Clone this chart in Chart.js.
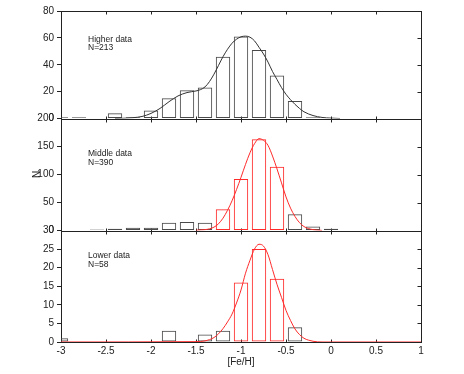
<!DOCTYPE html>
<html><head><meta charset="utf-8">
<script src="https://cdn.jsdelivr.net/npm/chart.js@4.4.0/dist/chart.umd.min.js"></script>
<style>html,body{margin:0;padding:0;background:#fff}</style>
</head><body>
<canvas id="c" width="464" height="374" style="width:464px;height:374px"></canvas>
<script>
// ---- data ----
const bins = [-3.0,-2.8,-2.6,-2.4,-2.2,-2.0,-1.8,-1.6,-1.4,-1.2,-1.0,-0.8,-0.6,-0.4,-0.2,0.0,0.2,0.4,0.6,0.8,1.0];
const higherCounts = [1,1,0,4,1,6,15,21,23,46,61,51,32,13,1,0,0,0,0,0,0];
const middleBlack  = [0,0,2,3,5,5,14,15,14,0,0,0,0,29,7,3,0,0,0,0,0];
const middleRed    = [0,0,0,0,0,0,0,0,0,38,92,163,114,0,0,0,0,0,0,0,0];
const lowerBlack   = [1,0,0,0,0,0,3,0,2,3,0,0,0,4,0,0,0,0,0,0,0];
const lowerRed     = [0,0,0,0,0,0,0,0,0,0,16,25,17,0,0,0,0,0,0,0,0];

const higherFitX = [-2.4,-2.3,-2.2,-2.1,-2.0,-1.9,-1.8,-1.7,-1.6,-1.5,-1.45,-1.4,-1.35,-1.3,-1.25,-1.2,-1.15,-1.1,-1.05,-1.0,-0.95,-0.9,-0.85,-0.8,-0.75,-0.7,-0.65,-0.6,-0.55,-0.5,-0.45,-0.4,-0.35,-0.3,-0.2,-0.1,0.0,0.1];
const higherFitY = [0,0.2,0.6,1.5,3.8,7.5,12.5,16.8,19.3,20.5,21.5,23.5,27.5,33,39.5,46,51.5,56,59,60.8,61.3,60.5,57.8,53,48,42,35,29,23,18,14,10.5,7.5,5,2.2,0.8,0.3,0];
const middleFitX = [-1.5,-1.45,-1.4,-1.35,-1.3,-1.25,-1.2,-1.15,-1.1,-1.05,-1.0,-0.95,-0.9,-0.85,-0.8,-0.75,-0.7,-0.65,-0.6,-0.55,-0.5,-0.45,-0.4,-0.35,-0.3,-0.25,-0.2,-0.15,-0.1];
const middleFitY = [0.4,1,1.5,3,6,12,22,36,53,73,95,118,139,155,164,161,152,133,110,85,60,40,25,14,7,3.5,1.5,0.6,0.2];
const lowerFitX = [-3.0,-1.5,-1.4,-1.3,-1.25,-1.2,-1.15,-1.1,-1.05,-1.0,-0.95,-0.9,-0.85,-0.8,-0.75,-0.7,-0.65,-0.6,-0.55,-0.5,-0.45,-0.4,-0.35,-0.3,-0.25,-0.2,-0.1,1.0];
const lowerFitY = [0,0.1,0.3,1.2,2.2,3.6,5.4,7.5,10.5,14,18.5,22,25,26.3,25.8,23.5,19.5,15.5,12,8.5,5.8,3.5,2,1,0.5,0.2,0,0];

const xTickValues = [-3,-2.5,-2,-1.5,-1,-0.5,0,0.5,1];
const topTicks = [0,20,40,60,80];
const midTicks = [0,50,100,150,200];
const lowTicks = [0,5,10,15,20,25,30];
const panelNames = ['Higher data','Middle data','Lower data'];
const panelN = ['N=213','N=390','N=58'];

// ---- styling ----
const BLACK = '#4a4a4a';
const CURVE = '#333333';
const RED = '#ff2a2a';
const AX = '#222222';
const FONT = '"Liberation Sans", Arial, Helvetica, sans-serif';

function barPoints(counts){ return bins.map((x,i)=>({x:x,y:counts[i]})).filter(p=>p.y>0); }
function linePoints(xs,ys){ return xs.map((x,i)=>({x:x,y:ys[i]})); }

function barDS(counts, color, axis){
  return {type:'bar', data:barPoints(counts), yAxisID:axis, borderColor:color, backgroundColor:'rgba(0,0,0,0)',
    borderWidth:1, borderSkipped:false, barPercentage:0.8, categoryPercentage:1.0, grouped:false};
}
function lineDS(xs, ys, color, axis){
  return {type:'line', data:linePoints(xs,ys), yAxisID:axis, borderColor:color, borderWidth:1, pointRadius:0,
    fill:false, tension:0.4, cubicInterpolationMode:'monotone'};
}

function yScale(ticks, weight, stackWeight, extra){
  const s = {
    type:'linear', position:'left', stack:'panels', stackWeight:stackWeight, weight:weight, offset:false,
    min:ticks[0], max:ticks[ticks.length-1],
    afterBuildTicks:(sc)=>{ sc.ticks = ticks.map(v=>({value:v})); },
    afterFit:(sc)=>{ sc.width = 61; },
    grid:{display:true, drawOnChartArea:false, drawTicks:true, tickLength:4, color:AX, lineWidth:1},
    border:{display:false},
    ticks:{color:AX, padding:3, font:{family:FONT, size:10}, autoSkip:false, callback:(v)=>String(v)}
  };
  return Object.assign(s, extra||{});
}

const framePlugin = {
  id:'frame',
  beforeDatasetsDraw(chart){
    const {ctx, chartArea:a, scales} = chart;
    const x = scales.x;
    ctx.save();
    ctx.strokeStyle = AX; ctx.lineWidth = 1;
    ['yTop','yMid','yLow'].forEach(id=>{
      const s = scales[id];
      const t = Math.round(s.top)+0.5, b = Math.round(s.bottom)+0.5;
      const l = Math.round(a.left)+0.5, r = Math.round(a.right)+0.5;
      ctx.strokeRect(l, t, r-l, b-t);
      ctx.beginPath();
      x.ticks.forEach(tk=>{
        const px = Math.round(x.getPixelForValue(tk.value))+0.5;
        ctx.moveTo(px,t); ctx.lineTo(px,t+3);
        ctx.moveTo(px,b); ctx.lineTo(px,b-3);
      });
      s.ticks.forEach(tk=>{
        const py = Math.round(s.getPixelForValue(tk.value))+0.5;
        ctx.moveTo(r,py); ctx.lineTo(r-4,py);
      });
      ctx.stroke();
    });
    ctx.restore();
  },
  afterDatasetsDraw(chart){
    const {ctx, scales} = chart;
    const anchors = [['yTop',57],['yMid',133],['yLow',22.6]];
    ctx.save();
    ctx.fillStyle = AX;
    ctx.font = '8.5px ' + FONT;
    ctx.textBaseline = 'alphabetic';
    ctx.textAlign = 'left';
    anchors.forEach((an,i)=>{
      const px = scales.x.getPixelForValue(-2.7);
      const py = scales[an[0]].getPixelForValue(an[1]);
      ctx.fillText(panelNames[i], px, py);
      ctx.fillText(panelN[i], px, py+8.5);
    });
    ctx.restore();
  }
};

new Chart(document.getElementById('c'), {
  type:'bar',
  data:{datasets:[
    lineDS(higherFitX, higherFitY, CURVE, 'yTop'),
    lineDS(middleFitX, middleFitY, RED, 'yMid'),
    lineDS(lowerFitX, lowerFitY, RED, 'yLow'),
    barDS(higherCounts, BLACK, 'yTop'),
    barDS(middleBlack, BLACK, 'yMid'),
    barDS(middleRed, RED, 'yMid'),
    barDS(lowerBlack, BLACK, 'yLow'),
    barDS(lowerRed, RED, 'yLow')
  ]},
  options:{
    responsive:false, animation:false, devicePixelRatio:1,
    layout:{padding:{top:11, right:43, left:0, bottom:0}},
    plugins:{legend:{display:false}, tooltip:{enabled:false}},
    scales:{
      x:{type:'linear', position:'bottom', min:-3, max:1, offset:false,
        afterBuildTicks:(sc)=>{ sc.ticks = xTickValues.map(v=>({value:v})); },
        afterFit:(sc)=>{ sc.height = 32; },
        grid:{display:false, offset:false, drawTicks:false}, border:{display:false},
        ticks:{color:AX, padding:3, font:{family:FONT, size:10}, autoSkip:false, maxRotation:0, callback:(v)=>String(v)},
        title:{display:true, text:'[Fe/H]', color:AX, font:{family:FONT, size:10}, padding:{top:0,bottom:6}}
      },
      yTop: yScale(topTicks, 3, 107.5),
      yMid: yScale(midTicks, 2, 112, {title:{display:true, text:'N', color:AX, font:{family:FONT, size:10}, padding:{top:31,bottom:0}}}),
      yLow: yScale(lowTicks, 1, 111.5)
    }
  },
  plugins:[framePlugin]
});
</script>
</body></html>
